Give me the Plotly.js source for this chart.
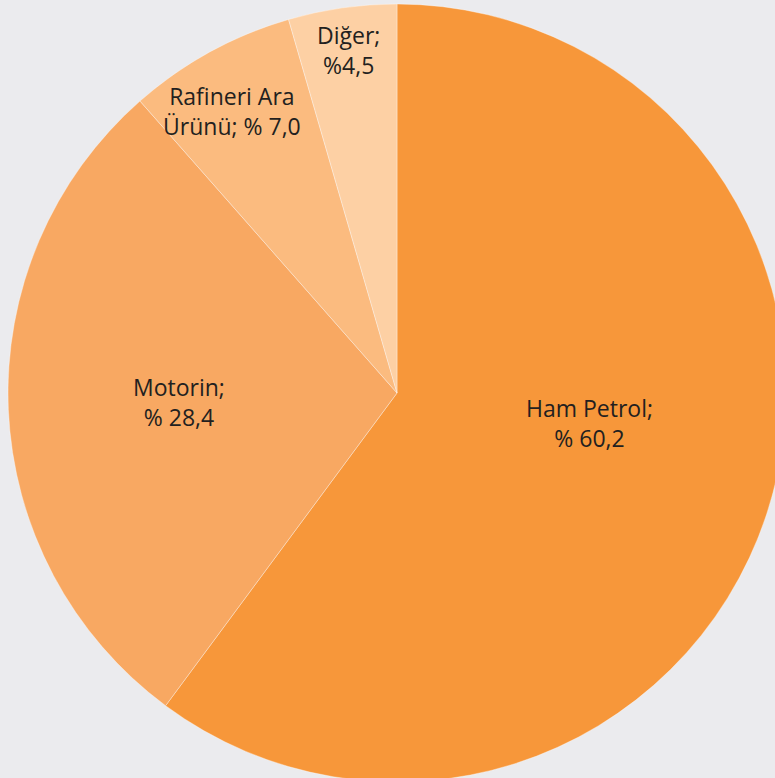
<!DOCTYPE html>
<html>
<head>
<meta charset="utf-8">
<script src="https://cdn.plot.ly/plotly-3.0.1.min.js"></script>
<style>
  html, body { margin: 0; padding: 0; background: #ebebee; overflow: hidden; }
  #chart { width: 800px; height: 800px; }
</style>
</head>
<body>
<div id="chart"></div>
<script>
// Pay dağılımı (%)
const labels = ['Ham Petrol', 'Motorin', 'Rafineri Ara Ürünü', 'Diğer'];
const values = [60.2, 28.4, 7.0, 4.5];
const labelTexts = ['Ham Petrol;<br>% 60,2', 'Motorin;<br>% 28,4', 'Rafineri Ara<br>Ürünü; % 7,0', 'Diğer;<br>%4,5'];
const colors = ['#f7973a', '#f8a862', '#fbbb7f', '#fdd0a4'];

// label placement: fraction of radius along the slice's mid-angle, plus a small nudge in px
const labelRadius = [0.5, 0.56, 0.84, 0.89];
const labelNudge = [[8, 31], [0, 0], [-8, -4], [0, 0]];

const total = values.reduce((a, b) => a + b, 0);
let acc = 0;
const annotations = values.map((v, i) => {
    const mid = (acc + v / 2) / total * 2 * Math.PI;
    acc += v;
    const r = 0.5 * labelRadius[i];
    return {
        xref: 'paper', yref: 'paper',
        x: 0.5 + r * Math.sin(mid),
        y: 0.5 + r * Math.cos(mid),
        xshift: labelNudge[i][0],
        yshift: labelNudge[i][1],
        text: labelTexts[i],
        showarrow: false,
        xanchor: 'center', yanchor: 'middle',
        font: { family: 'Open Sans, sans-serif', size: 23, color: '#231f20' }
    };
});

const trace = {
    type: 'pie',
    labels: labels,
    values: values,
    sort: false,
    direction: 'clockwise',
    rotation: 0,
    textinfo: 'none',
    hoverinfo: 'label+percent',
    marker: {
        colors: colors,
        line: { color: 'rgba(255,255,255,0.35)', width: 1 }
    }
};

const layout = {
    width: 800,
    height: 800,
    margin: { l: 8, r: 14, t: 4, b: 18 },
    paper_bgcolor: '#ebebee',
    plot_bgcolor: '#ebebee',
    showlegend: false,
    annotations: annotations
};

Plotly.newPlot('chart', [trace], layout, { displayModeBar: false, staticPlot: true });
</script>
</body>
</html>
